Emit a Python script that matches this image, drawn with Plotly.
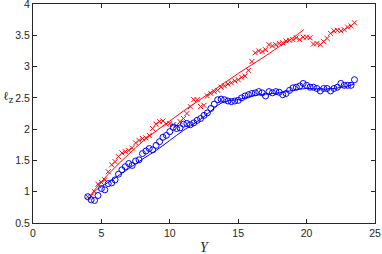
import plotly.graph_objects as go

# --- data ---
red_x = [4.00, 4.25, 4.50, 4.75, 5.00, 5.25, 5.50, 5.75, 6.00, 6.25, 6.50, 6.75, 7.00, 7.25,
         7.50, 7.75, 8.00, 8.25, 8.50, 8.75, 9.00, 9.25, 9.50, 9.75, 10.00, 10.25, 10.50, 10.75,
         11.00, 11.25, 11.50, 11.75, 12.00, 12.25, 12.50, 12.75, 13.00, 13.25, 13.50, 13.75,
         14.00, 14.25, 14.50, 14.75, 15.00, 15.25, 15.50, 15.75, 16.00, 16.25, 16.50, 16.75,
         17.00, 17.25, 17.50, 17.75, 18.00, 18.25, 18.50, 18.75, 19.00, 19.25, 19.50, 19.75,
         20.00, 20.25, 20.50, 20.75, 21.00, 21.25, 21.50, 21.75, 22.00, 22.25, 22.50, 22.75,
         23.00, 23.25, 23.50]
red_y = [0.92, 0.93, 1.00, 1.12, 1.15, 1.19, 1.32, 1.43, 1.48, 1.56, 1.62, 1.64, 1.66, 1.70,
         1.78, 1.82, 1.85, 1.86, 1.90, 2.01, 2.08, 2.12, 2.13, 2.08, 2.09, 2.07, 2.06, 2.12,
         2.17, 2.25, 2.36, 2.47, 2.47, 2.36, 2.38, 2.53, 2.57, 2.60, 2.62, 2.67,
         2.69, 2.72, 2.74, 2.77, 2.79, 2.83, 2.85, 2.94, 3.08, 3.22, 3.25, 3.24,
         3.27, 3.35, 3.33, 3.35, 3.37, 3.38, 3.41, 3.42, 3.43, 3.46, 3.43, 3.47,
         3.47, 3.46, 3.36, 3.37, 3.35, 3.40, 3.45, 3.53, 3.57, 3.58, 3.57, 3.59,
         3.63, 3.65, 3.70]

blue_x = red_x
blue_y = [0.92, 0.87, 0.86, 0.94, 1.05, 1.03, 1.13, 1.14, 1.19, 1.28, 1.35, 1.40, 1.45, 1.42,
          1.49, 1.51, 1.61, 1.65, 1.69, 1.67, 1.74, 1.80, 1.87, 1.90, 1.96, 2.03, 2.01,
          2.02, 2.08, 2.09, 2.07, 2.10, 2.14, 2.17, 2.22, 2.26, 2.33, 2.40, 2.47, 2.48,
          2.47, 2.45, 2.44, 2.45, 2.46, 2.50, 2.53, 2.55, 2.57, 2.58, 2.60, 2.58,
          2.53, 2.60, 2.58, 2.60, 2.59, 2.55, 2.57, 2.62, 2.66, 2.67, 2.69, 2.73,
          2.70, 2.67, 2.67, 2.65, 2.61, 2.65, 2.65, 2.61, 2.65, 2.67, 2.73, 2.70,
          2.70, 2.70, 2.79]

red_fit_x = [4.2, 5, 6, 7, 8, 9, 10, 11, 12, 13, 14, 15, 16, 17, 18, 19, 19.8]
red_fit_y = [0.94, 1.16, 1.39, 1.60, 1.80, 1.97, 2.13, 2.29, 2.44, 2.59, 2.74, 2.89, 3.03,
             3.17, 3.32, 3.46, 3.59]

blue_fit_x = [4.7, 5, 6, 7, 8, 9, 10, 11, 12, 12.5, 13, 13.5, 14, 14.5, 15, 15.5, 16, 17,
              18, 19, 20, 21, 22, 23, 23.5]
blue_fit_y = [1.04, 1.08, 1.22, 1.37, 1.52, 1.66, 1.82, 1.98, 2.12, 2.20, 2.29, 2.38, 2.44,
              2.46, 2.47, 2.50, 2.53, 2.56, 2.58, 2.62, 2.65, 2.64, 2.65, 2.69, 2.72]

x_ticks = [0, 5, 10, 15, 20, 25]
y_ticks = [0.5, 1, 1.5, 2, 2.5, 3, 3.5, 4]

RED = "rgb(255,0,0)"
BLUE = "rgb(0,0,255)"
AX = "#262626"

fig = go.Figure()
fig.add_trace(go.Scatter(x=red_x, y=red_y, mode="markers",
                         marker=dict(symbol="x-thin", size=5, line=dict(color=RED, width=1))))
fig.add_trace(go.Scatter(x=blue_x, y=blue_y, mode="markers",
                         marker=dict(symbol="circle-open", size=6, color=BLUE,
                                     line=dict(color=BLUE, width=1))))
fig.add_trace(go.Scatter(x=red_fit_x, y=red_fit_y, mode="lines",
                         line=dict(color=RED, width=1, shape="spline")))
fig.add_trace(go.Scatter(x=blue_fit_x, y=blue_fit_y, mode="lines",
                         line=dict(color=BLUE, width=1, shape="spline")))

axis_common = dict(showline=True, linecolor=AX, linewidth=1, mirror="ticks",
                   ticks="inside", ticklen=4, tickcolor=AX, showgrid=False, zeroline=False,
                   automargin=False, ticklabeloverflow="allow",
                   tickfont=dict(family="Liberation Sans, Arial", size=10.5, color=AX))
fig.update_xaxes(range=[0, 25], tickvals=x_ticks, **axis_common)
fig.update_yaxes(range=[0.5, 4], tickvals=y_ticks, **axis_common)

fig.add_annotation(text="ℓ<sub>z</sub>", xref="paper", yref="paper", x=-0.072, y=0.575,
                   xanchor="center", yanchor="middle",
                   showarrow=False, font=dict(family="DejaVu Serif", size=12, color=AX))
fig.add_annotation(text="<i>Y</i>", xref="paper", yref="paper", x=0.502, y=-0.111,
                   xanchor="center", yanchor="middle",
                   showarrow=False, font=dict(family="Liberation Serif", size=14, color=AX))

fig.update_layout(width=382, height=254, margin=dict(l=33, r=7, t=4, b=31),
                  template="none",
                  paper_bgcolor="white", plot_bgcolor="white", showlegend=False)

fig.write_html("out.html", config={"displayModeBar": False},
               post_script="document.body.style.margin='0px';document.body.style.padding='0px';")
